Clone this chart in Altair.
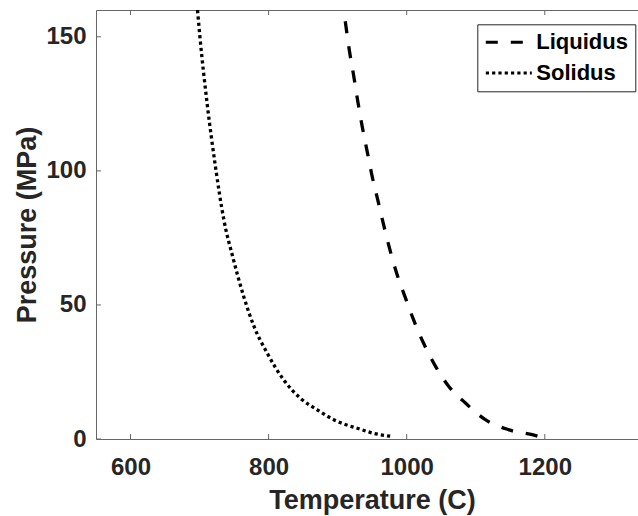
import altair as alt
import pandas as pd

# Solidus curve (Temperature in C, Pressure in MPa)
sol_T = [697, 700.5, 711, 723, 735, 749, 764, 779, 798, 822, 846, 871, 895, 909, 928.5, 952.4, 980]
sol_P = [160, 150, 125, 101.6, 82, 67, 53.1, 41.9, 32, 22, 15.2, 10.8, 7.1, 5.6, 4.0, 2.1, 0.9]

# Liquidus curve
liq_T = [911, 912.4, 917.2, 923.4, 929.2, 935.6, 942.8, 950.0, 958.1, 966.0, 977, 985.5, 997.5,
         1010, 1024.5, 1042, 1061.3, 1085.5, 1114.5, 1148.3, 1191.7, 1195]
liq_P = [155.8, 153.2, 144.5, 135.2, 125.9, 116.5, 107.2, 97.9, 89.2, 80.5, 69.3, 61.8, 53.1,
         44.4, 35.7, 27.0, 19.5, 13.3, 7.1, 3.4, 0.9, 0.6]

series = ["Liquidus", "Solidus"]
x_ticks = [600, 800, 1000, 1200]
y_ticks = [0, 50, 100, 150]

df = pd.concat([
    pd.DataFrame({"T": liq_T, "P": liq_P, "curve": series[0]}),
    pd.DataFrame({"T": sol_T, "P": sol_P, "curve": series[1]}),
], ignore_index=True)
xt = pd.DataFrame({"v": x_ticks})
yt = pd.DataFrame({"v": y_ticks})

W, H = 542, 429
FONT = "Liberation Sans"
TXT = "#262626"
FRAME = "#666666"

xscale = alt.Scale(domain=[550, 1335], nice=False, zero=False)
yscale = alt.Scale(domain=[0, 160], nice=False, zero=False)

x_axis = alt.Axis(
    values=x_ticks, format="d", title="Temperature (C)", domain=False, ticks=False, tickSize=0, grid=False,
    labelFont=FONT, labelFontWeight="bold", labelFontSize=24, labelColor=TXT, labelPadding=16,
    titleFont=FONT, titleFontWeight="bold", titleFontSize=27, titleColor=TXT,
    titleX=276, titleY=69, titleBaseline="alphabetic", titleAlign="center")
y_axis = alt.Axis(
    values=y_ticks, format="d", title="Pressure (MPa)", domain=False, ticks=False, tickSize=0, grid=False,
    labelFont=FONT, labelFontWeight="bold", labelFontSize=24, labelColor=TXT, labelPadding=10,
    titleFont=FONT, titleFontWeight="bold", titleFontSize=27, titleColor=TXT,
    titleX=-61, titleY=214.5, titleAngle=270, titleBaseline="alphabetic", titleAlign="center")

lines = alt.Chart(df).mark_line(
    color="black", strokeWidth=3.3, strokeCap="butt", clip=True, interpolate="monotone"
).encode(
    x=alt.X("T:Q", scale=xscale, axis=x_axis),
    y=alt.Y("P:Q", scale=yscale, axis=y_axis),
    strokeDash=alt.StrokeDash("curve:N", scale=alt.Scale(domain=series, range=[[12, 13], [3.2, 3.1]]),
        legend=alt.Legend(
            title=None, orient="none", legendX=381.3, legendY=14.3,
            strokeColor=TXT, fillColor="white", padding=7, rowPadding=8.7, clipHeight=22,
            symbolType="stroke", symbolSize=2116, symbolStrokeWidth=3, symbolStrokeColor="black",
            labelFont=FONT, labelFontWeight="bold", labelFontSize=22, labelColor="black",
            labelOffset=3, cornerRadius=0)),
)

bottom_ticks = alt.Chart(xt).mark_rule(color=FRAME, strokeWidth=1).encode(
    x=alt.X("v:Q", scale=xscale, axis=x_axis), y=alt.value(H), y2=alt.value(H - 5))
top_ticks = alt.Chart(xt).mark_rule(color=FRAME, strokeWidth=1).encode(
    x=alt.X("v:Q", scale=xscale, axis=x_axis), y=alt.value(0), y2=alt.value(5))
left_ticks = alt.Chart(yt).mark_rule(color=FRAME, strokeWidth=1).encode(
    y=alt.Y("v:Q", scale=yscale, axis=y_axis), x=alt.value(0), x2=alt.value(5))

chart = alt.layer(lines, bottom_ticks, top_ticks, left_ticks).properties(
    width=W, height=H,
    autosize=alt.AutoSizeParams(type="none"),
    padding={"left": 96, "top": 10, "right": 0, "bottom": 77},
    background="white",
).configure_view(stroke=FRAME, strokeWidth=1)

chart.save("out.html", embed_options={"renderer": "svg", "actions": False})
